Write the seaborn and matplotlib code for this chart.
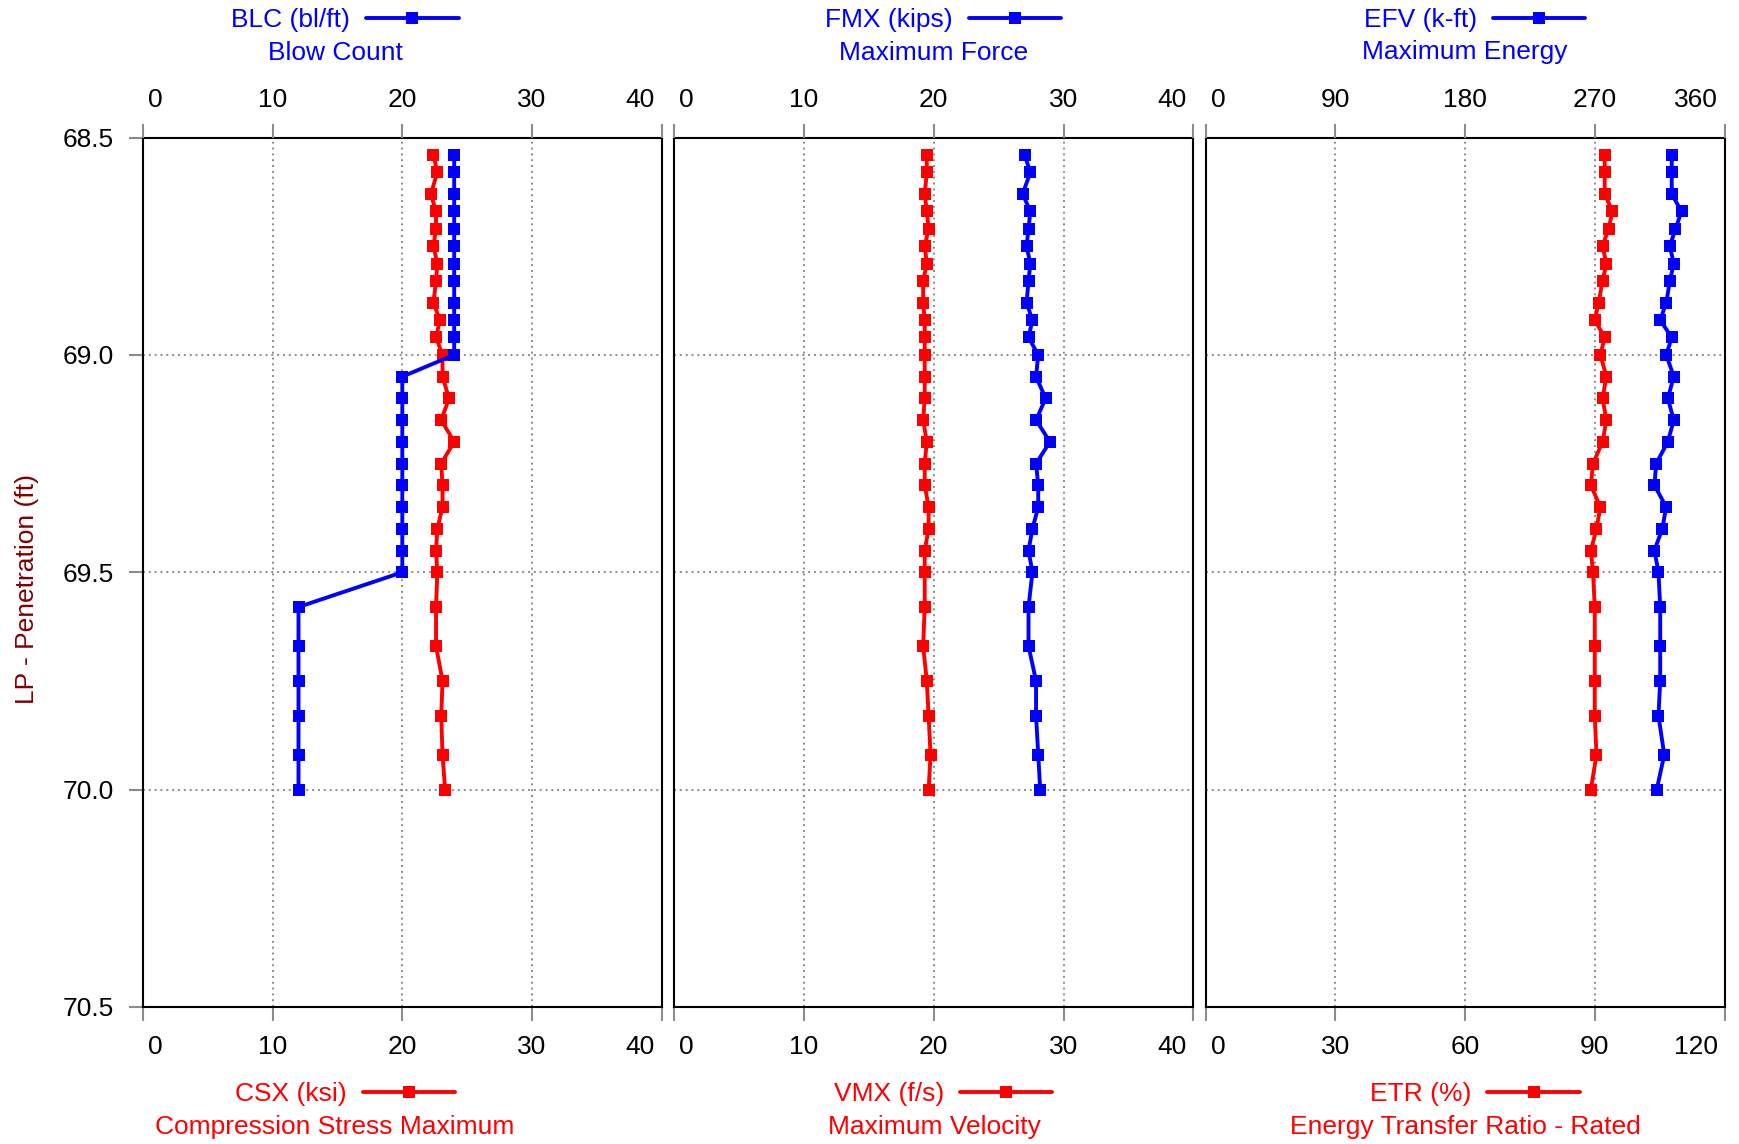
import matplotlib
matplotlib.use('Agg')
import matplotlib.pyplot as plt
import matplotlib.transforms as mtransforms
import pandas as pd
import seaborn as sns

# ---------------- data ----------------
depth = [68.54, 68.58, 68.63, 68.67, 68.71, 68.75, 68.79, 68.83, 68.88, 68.92, 68.96, 69.00,
         69.05, 69.10, 69.15, 69.20, 69.25, 69.30, 69.35, 69.40, 69.45, 69.50,
         69.58, 69.67, 69.75, 69.83, 69.92, 70.00]

blc = [24, 24, 24, 24, 24, 24, 24, 24, 24, 24, 24, 24,
       20, 20, 20, 20, 20, 20, 20, 20, 20, 20,
       12, 12, 12, 12, 12, 12]

csx = [22.4, 22.7, 22.2, 22.6, 22.6, 22.4, 22.7, 22.6, 22.4, 22.9, 22.6, 23.1,
       23.1, 23.6, 23.0, 24.0, 23.0, 23.1, 23.1, 22.7, 22.6, 22.7,
       22.6, 22.6, 23.1, 23.0, 23.1, 23.3]

fmx = [27.0, 27.44, 26.85, 27.44, 27.3, 27.15, 27.44, 27.3, 27.15, 27.6, 27.3, 28.05,
       27.88, 28.62, 27.88, 28.95, 27.88, 28.05, 28.05, 27.6, 27.3, 27.6,
       27.3, 27.3, 27.88, 27.88, 28.05, 28.2]

vmx = [19.46, 19.46, 19.3, 19.46, 19.6, 19.3, 19.46, 19.18, 19.18, 19.3, 19.3, 19.3,
       19.3, 19.3, 19.18, 19.46, 19.3, 19.3, 19.6, 19.6, 19.3, 19.3,
       19.3, 19.18, 19.46, 19.6, 19.75, 19.6]

efv = [323.4, 323.4, 323.4, 330.2, 326.0, 322.1, 324.8, 322.1, 319.6, 315.4, 323.4, 319.6,
       324.8, 320.7, 324.8, 320.7, 312.6, 311.4, 319.6, 316.8, 311.4, 314.2,
       315.4, 315.4, 315.4, 314.2, 318.2, 313.0]

etr = [92.3, 92.3, 92.3, 94.1, 93.2, 91.8, 92.7, 91.8, 90.9, 90.0, 92.3, 91.3,
       92.7, 91.8, 92.7, 91.8, 89.6, 89.1, 91.3, 90.4, 89.1, 89.6,
       90.0, 90.0, 90.0, 90.0, 90.4, 89.1]

top_series = [blc, fmx, efv]
bottom_series = [csx, vmx, etr]

top_ticks = [[0, 10, 20, 30, 40], [0, 10, 20, 30, 40], [0, 90, 180, 270, 360]]
bottom_ticks = [[0, 10, 20, 30, 40], [0, 10, 20, 30, 40], [0, 30, 60, 90, 120]]
y_ticks = [68.5, 69.0, 69.5, 70.0, 70.5]
y_tick_labels = ['68.5', '69.0', '69.5', '70.0', '70.5']

top_labels = ['BLC (bl/ft)', 'FMX (kips)', 'EFV (k-ft)']
top_titles = ['Blow Count', 'Maximum Force', 'Maximum Energy']
bottom_labels = ['CSX (ksi)', 'VMX (f/s)', 'ETR (%)']
bottom_titles = ['Compression Stress Maximum', 'Maximum Velocity', 'Energy Transfer Ratio - Rated']
y_label = 'LP - Penetration (ft)'

# ---------------- style ----------------
sns.set_style('white')
plt.rcParams['font.family'] = ['Liberation Sans', 'DejaVu Sans']

W, H = 1739, 1144
fig = plt.figure(figsize=(W / 100, H / 100), dpi=100)

BLUE = '#0000ff'
RED = '#ff0000'
TICKC = '#8c8c8c'
FS = 19
LW = 2.8
MS = 9

lefts = [142.8, 674.3, 1205.5]
ax_w, ax_top, ax_bot = 519.0, 137.5, 1007.0
top_leg_x = [345, 943, 1474.5]
bot_leg_x = [345, 943, 1475]
title_x = [335, 934, 1465]


def shift(label, dx_pt, ha):
    label.set_horizontalalignment(ha)
    label.set_transform(label.get_transform() +
                        mtransforms.ScaledTranslation(dx_pt / 72, 0, fig.dpi_scale_trans))


for i in range(3):
    ax = fig.add_axes([lefts[i] / W, 1 - ax_bot / H, ax_w / W, (ax_bot - ax_top) / H])
    ax2 = ax.twiny()
    df = pd.DataFrame({'depth': depth, 'top': top_series[i], 'bottom': bottom_series[i]})

    sns.lineplot(data=df, x='bottom', y='depth', ax=ax, sort=False, estimator=None,
                 color=RED, marker='s', markersize=MS, markeredgewidth=0, linewidth=LW,
                 label=bottom_labels[i], legend=False)
    sns.lineplot(data=df, x='top', y='depth', ax=ax2, sort=False, estimator=None,
                 color=BLUE, marker='s', markersize=MS, markeredgewidth=0, linewidth=LW,
                 label=top_labels[i], legend=False)

    ax.set_xlim(bottom_ticks[i][0], bottom_ticks[i][-1])
    ax2.set_xlim(top_ticks[i][0], top_ticks[i][-1])
    ax.set_ylim(70.5, 68.5)
    for a in (ax, ax2):
        a.set_xlabel('')
        a.set_ylabel('')

    # grid
    ax.set_axisbelow(True)
    ax.grid(True, color=TICKC, linestyle=(0, (1, 2)), linewidth=1.4)
    ax2.grid(False)

    # spines
    for s in ax.spines.values():
        s.set_visible(True)
        s.set_color('black')
        s.set_linewidth(1.5)
    for s in ax2.spines.values():
        s.set_visible(False)

    # x ticks
    ax.set_xticks(bottom_ticks[i])
    ax.set_xticklabels([str(t) for t in bottom_ticks[i]])
    ax.tick_params(axis='x', which='major', bottom=True, top=False, labelbottom=True, labeltop=False,
                   direction='out', length=10, width=1.5, color=TICKC, labelsize=FS, pad=10.5,
                   labelcolor='black')
    ax2.set_xticks(top_ticks[i])
    ax2.set_xticklabels([str(t) for t in top_ticks[i]])
    ax2.tick_params(axis='x', which='major', bottom=False, top=True, labelbottom=False, labeltop=True,
                    direction='out', length=10, width=1.5, color=TICKC, labelsize=FS, pad=8.5,
                    labelcolor='black')

    # y ticks
    ax.set_yticks(y_ticks)
    if i == 0:
        ax.set_yticklabels(y_tick_labels)
        ax.tick_params(axis='y', left=True, labelleft=True, direction='out', length=10, width=1.5,
                       color=TICKC, labelsize=FS, pad=11, labelcolor='black')
    else:
        ax.tick_params(axis='y', left=False, labelleft=False)

    # edge labels pulled inward
    bl = ax.get_xticklabels()
    shift(bl[0], 3.6, 'left')
    shift(bl[-1], -5.0, 'right')
    tl = ax2.get_xticklabels()
    shift(tl[0], 3.6, 'left')
    shift(tl[-1], -5.0, 'right')

    # header legends
    h2, l2 = ax2.get_legend_handles_labels()
    ax2.legend(h2, l2, loc='center', bbox_to_anchor=(top_leg_x[i] / W, 1 - 20.0 / H),
               bbox_transform=fig.transFigure, frameon=False, markerfirst=False,
               handlelength=3.5, handletextpad=0.6, fontsize=FS, borderpad=0,
               borderaxespad=0, labelcolor='linecolor')
    h1, l1 = ax.get_legend_handles_labels()
    ax.legend(h1, l1, loc='center', bbox_to_anchor=(bot_leg_x[i] / W, 1 - 1094.5 / H),
              bbox_transform=fig.transFigure, frameon=False, markerfirst=False,
              handlelength=3.5, handletextpad=0.6, fontsize=FS, borderpad=0,
              borderaxespad=0, labelcolor='linecolor')

    fig.text(title_x[i] / W, 1 - 52.5 / H, top_titles[i], ha='center', va='center',
             color=BLUE, fontsize=FS)
    fig.text(title_x[i] / W, 1 - 1126.8 / H, bottom_titles[i], ha='center', va='center',
             color=RED, fontsize=FS)

fig.text(27 / W, 1 - 589 / H, y_label, rotation=90, ha='center', va='center',
         color='#800000', fontsize=FS)

fig.savefig('out.png', dpi=100)
